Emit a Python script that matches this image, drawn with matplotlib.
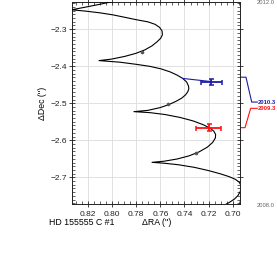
import matplotlib
matplotlib.use("Agg")
import matplotlib.pyplot as plt
from matplotlib.lines import Line2D

plt.rcParams['font.family'] = ['Liberation Sans', 'DejaVu Sans']

# model track (2008.0 -> 2012.0)
track_ra = [0.7069, 0.7028, 0.6986, 0.6957, 0.6938, 0.6931, 0.6933, 0.6948, 0.6978, 0.7028,
            0.7103, 0.7203, 0.7319, 0.7453, 0.7569, 0.7669,
            0.7569, 0.7461, 0.7361, 0.7278, 0.7211, 0.7167, 0.7144, 0.7142, 0.7157, 0.7190,
            0.7244, 0.7328, 0.7436, 0.7561, 0.7686, 0.7819,
            0.7703, 0.7603, 0.7528, 0.7469, 0.7423, 0.7390, 0.7371, 0.7364, 0.7367, 0.7383,
            0.7415, 0.7461, 0.7519, 0.7594, 0.7686, 0.7797, 0.7936, 0.8108,
            0.8003, 0.7894, 0.7803, 0.7728, 0.7669, 0.7628, 0.7598, 0.7583, 0.7586, 0.7607,
            0.7644, 0.7703, 0.7794, 0.7894, 0.7994, 0.8103, 0.8219, 0.8336,
            0.8228, 0.8103, 0.7992, 0.7936]
track_dec = [-2.7749, -2.7676, -2.7586, -2.7492, -2.7384, -2.7289, -2.7208, -2.7127, -2.7054, -2.6984,
             -2.6905, -2.6816, -2.6730, -2.6659, -2.6619, -2.6595,
             -2.6565, -2.6505, -2.6419, -2.6311, -2.6186, -2.6059, -2.5938, -2.5843, -2.5754, -2.5668,
             -2.5581, -2.5478, -2.5384, -2.5305, -2.5254, -2.5227,
             -2.5192, -2.5119, -2.5035, -2.4946, -2.4862, -2.4770, -2.4681, -2.4600, -2.4532, -2.4424,
             -2.4330, -2.4241, -2.4154, -2.4073, -2.4005, -2.3951, -2.3892, -2.3849,
             -2.3808, -2.3735, -2.3654, -2.3559, -2.3451, -2.3343, -2.3249, -2.3154, -2.3046, -2.2951,
             -2.2870, -2.2803, -2.2749, -2.2681, -2.2614, -2.2559, -2.2514, -2.2478,
             -2.2411, -2.2330, -2.2254, -2.2208]

# small epoch markers on the track
mark_ra = [0.7755, 0.7533, 0.7305]
mark_dec = [-2.3622, -2.5019, -2.6351]

# measurements
epochs = ["2010.3", "2009.3"]
obs_ra = [0.7178, 0.7200]
obs_dec = [-2.4416, -2.5659]
obs_ra_err = [0.0086, 0.0103]
obs_dec_err = [0.008, 0.0095]
model_ra = [0.7415, None]
model_dec = [-2.4330, None]
colors = ["#1c1ca8", "#ff1010"]

xlim = (0.8328, 0.6936)
ylim = (-2.772, -2.226)

fig = plt.figure(figsize=(2.77, 2.69), dpi=100)
ax = fig.add_axes([0.2617, 0.2416, 0.6065, 0.752])

ax.plot(track_ra, track_dec, color="black", lw=0.8, zorder=3, solid_joinstyle="round")
ax.plot(mark_ra, mark_dec, "o", ms=1.6, color="#555555", zorder=4)

for i in range(len(epochs)):
    if model_ra[i] is not None:
        ax.plot([model_ra[i], obs_ra[i]], [model_dec[i], obs_dec[i]], color=colors[i], lw=0.8, zorder=4)
    ax.errorbar(obs_ra[i], obs_dec[i], xerr=obs_ra_err[i], yerr=obs_dec_err[i],
                fmt="none", ecolor=colors[i], elinewidth=1.3, capsize=1.8, capthick=1.1, zorder=5)

ax.set_xlim(*xlim)
ax.set_ylim(*ylim)
ax.set_xticks([0.82, 0.80, 0.78, 0.76, 0.74, 0.72, 0.70])
ax.set_yticks([-2.7, -2.6, -2.5, -2.4, -2.3])
ax.set_xticklabels(["0.82", "0.80", "0.78", "0.76", "0.74", "0.72", "0.70"])
ax.set_yticklabels(["\u22122.7", "\u22122.6", "\u22122.5", "\u22122.4", "\u22122.3"])
ax.xaxis.set_minor_locator(matplotlib.ticker.MultipleLocator(0.005))
ax.yaxis.set_minor_locator(matplotlib.ticker.MultipleLocator(0.01))
ax.tick_params(which="major", direction="inout", length=4, width=0.6, labelsize=6,
               top=True, right=True, pad=2, colors="#222222")
ax.tick_params(which="minor", direction="in", length=2, width=0.5, top=True, right=True, colors="#222222")
ax.tick_params(axis="x", which="major", pad=3)
ax.grid(True, which="major", color="#dcdcdc", lw=0.6)
for s in ax.spines.values():
    s.set_linewidth(0.7)
    s.set_color("#222222")

ax.text(-0.1756, 0.499, "\u0394Dec ('')", rotation=90, transform=ax.transAxes,
        ha="center", va="center", fontsize=6.3)
ax.text(0.5, -0.092, "\u0394RA ('')", transform=ax.transAxes, ha="center", va="center", fontsize=6.3)
ax.text(-0.140, -0.089, "HD 155555 C #1", transform=ax.transAxes, ha="left", va="center", fontsize=6.3)

ax.text(1.0964, 0.996, "2012.0", transform=ax.transAxes, ha="left", va="center",
        fontsize=4.2, color="#666666")
ax.text(1.0964, -0.005, "2008.0", transform=ax.transAxes, ha="left", va="center",
        fontsize=4.2, color="#666666")

# epoch labels with connectors outside the right spine
spine_y = [(-2.4297 - ylim[0]) / (ylim[1] - ylim[0]), (obs_dec[1] - ylim[0]) / (ylim[1] - ylim[0])]
bend_x = [1.0327, 1.0268]
label_x = [1.0667, 1.0607]
label_y = [0.504, 0.473]
for i in range(len(epochs)):
    ln = Line2D([1.0, bend_x[i], label_x[i], 1.100], [spine_y[i], spine_y[i], label_y[i], label_y[i]],
                transform=ax.transAxes, color=colors[i], lw=0.8, clip_on=False)
    ax.add_line(ln)
    ax.text(1.104, label_y[i], epochs[i], transform=ax.transAxes, ha="left", va="center",
            fontsize=4.2, fontweight="bold", color=colors[i])

fig.savefig("out.png", dpi=100)
